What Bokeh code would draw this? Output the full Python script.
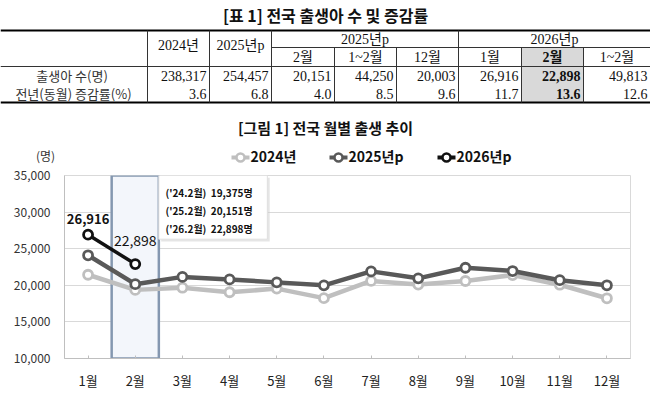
from bokeh.plotting import figure
from bokeh.models import Range1d, FixedTicker, NumeralTickFormatter
from bokeh.core.properties import value
from bokeh.embed import file_html
from bokeh.resources import INLINE

# ---------------- data ----------------
months = ["1월", "2월", "3월", "4월", "5월", "6월", "7월", "8월", "9월", "10월", "11월", "12월"]
births_2024 = [21442, 19375, 19669, 19049, 19547, 18242, 20601, 20098, 20590, 21398, 20080, 18226]
births_2025 = [24099, 20151, 21150, 20800, 20400, 20000, 21900, 20950, 22400, 21950, 20700, 20003]
births_2026 = [26916, 22898]
series_names = ["2024년", "2025년p", "2026년p"]

table_title = "[표 1] 전국 출생아 수 및 증감률"
chart_title = "[그림 1] 전국 월별 출생 추이"
row_labels = ["출생아  수(명)", "전년(동월) 증감률(%)"]
group_headers = ["2025년p", "2026년p"]
col_headers = ["2024년", "2025년p", "2월", "1~2월", "12월", "1월", "2월", "1~2월"]
births_row = [238317, 254457, 20151, 44250, 20003, 26916, 22898, 49813]
rate_row = [3.6, 6.8, 4.0, 8.5, 9.6, 11.7, 13.6, 12.6]
note_labels = ["('24.2월)", "('25.2월)", "('26.2월)"]
y_ticks = [10000, 15000, 20000, 25000, 30000, 35000]

SERIF = value("Liberation Serif, Noto Sans CJK KR")
SANS = value("Noto Sans CJK KR")
W = 650


def blank(h, yr):
    p = figure(width=W, height=h, x_range=Range1d(0, W), y_range=Range1d(*yr),
               output_backend="svg", toolbar_location=None, min_border=0,
               min_border_left=0, min_border_right=0, min_border_top=0, min_border_bottom=0)
    p.axis.visible = False
    p.grid.visible = False
    p.outline_line_color = None
    p.background_fill_color = "white"
    p.border_fill_color = "white"
    return p


# ---------------- table figure ----------------
t = blank(108, (108, 0))
edges = [147, 209, 271, 334, 396, 458, 521, 583, 650]
top, mid, hdr, bot = 30, 47, 66, 102
# shaded cell (2026 2월)
t.quad(left=[edges[6]], right=[edges[7]], top=[mid], bottom=[bot], fill_color="#d9d9d9", line_color=None)
t.segment(x0=[0, 0], y0=[top, bot], x1=[W, W], y1=[top, bot], line_color="black", line_width=2)
t.segment(x0=[0, edges[2]], y0=[hdr, mid], x1=[W, W], y1=[hdr, mid], line_color="#333333", line_width=1)
full_v = [edges[0], edges[1], edges[2], edges[5]]
part_v = [edges[3], edges[4], edges[6], edges[7]]
t.segment(x0=full_v, y0=[top] * 4, x1=full_v, y1=[bot] * 4, line_color="#333333", line_width=1)
t.segment(x0=part_v, y0=[mid] * 4, x1=part_v, y1=[bot] * 4, line_color="#333333", line_width=1)

t.text(x=[325], y=[14], text=[table_title], text_font=SANS, text_font_style="bold",
       text_font_size="16px", text_align="center", text_baseline="middle", text_color="#111111")

centers = [(edges[i] + edges[i + 1]) / 2 for i in range(8)]
t.text(x=centers[:2], y=[45, 45], text=col_headers[:2], text_font=SERIF, text_font_size="14px",
       text_align="center", text_baseline="middle", text_color="#111111")
t.text(x=[(edges[2] + edges[5]) / 2, (edges[5] + edges[8]) / 2], y=[39, 39], text=group_headers,
       text_font=SERIF, text_font_size="14px", text_align="center", text_baseline="middle",
       text_color="#111111")
sub_idx = [2, 3, 4, 5, 7]
t.text(x=[centers[i] for i in sub_idx], y=[57] * 5, text=[col_headers[i] for i in sub_idx],
       text_font=SERIF, text_font_size="14px", text_align="center", text_baseline="middle",
       text_color="#111111")
t.text(x=[centers[6]], y=[57], text=[col_headers[6]], text_font=SERIF, text_font_style="bold",
       text_font_size="14px", text_align="center", text_baseline="middle", text_color="#111111")

t.text(x=[73, 73], y=[75, 93], text=row_labels, text_font=SANS, text_font_size="13px",
       text_align="center", text_baseline="middle", text_color="#333333")
rights = [edges[i + 1] - 3 for i in range(8)]
norm = [i for i in range(8) if i != 6]
t.text(x=[rights[i] for i in norm], y=[75] * 7, text=[f"{births_row[i]:,}" for i in norm],
       text_font=SERIF, text_font_size="14px", text_align="right", text_baseline="middle",
       text_color="#111111")
t.text(x=[rights[i] for i in norm], y=[93] * 7, text=[f"{rate_row[i]:.1f}" for i in norm],
       text_font=SERIF, text_font_size="14px", text_align="right", text_baseline="middle",
       text_color="#111111")
t.text(x=[rights[6], rights[6]], y=[75, 93], text=[f"{births_row[6]:,}", f"{rate_row[6]:.1f}"],
       text_font=SERIF, text_font_style="bold", text_font_size="14px", text_align="right",
       text_baseline="middle", text_color="#111111")

# ---------------- chart header figure ----------------
colors = ["#bfbfbf", "#595959", "#111111"]
HB = 167
h = blank(HB - 108, (HB, 108))
h.text(x=[325], y=[127], text=[chart_title], text_font=SANS, text_font_style="bold",
       text_font_size="15px", text_align="center", text_baseline="middle", text_color="#111111")
h.text(x=[45], y=[155], text=["(명)"], text_font=SANS, text_font_size="12px",
       text_align="center", text_baseline="middle", text_color="#333333")
lg_x = [240, 338, 446]
lg_y = 157
h.segment(x0=[x - 9 for x in lg_x], y0=[lg_y] * 3, x1=[x + 9 for x in lg_x], y1=[lg_y] * 3,
          line_color=colors, line_width=4)
h.scatter(x=lg_x, y=[lg_y] * 3, size=8, fill_color="white", line_color=colors, line_width=2.5)
h.text(x=[x + 10 for x in lg_x], y=[lg_y - 1.5] * 3, text=series_names, text_font=SANS,
       text_font_style="bold", text_font_size="14px", text_align="left", text_baseline="middle",
       text_color="#111111")

# ---------------- chart figure ----------------
xs = list(range(1, 13))
c = figure(width=W, height=397 - HB, x_range=Range1d(0.5, 12.5), y_range=Range1d(10000, 35000),
           output_backend="svg", toolbar_location=None,
           min_border_left=64, min_border_right=20, min_border_top=175 - HB, min_border_bottom=39)
c.background_fill_color = "white"
c.border_fill_color = "white"
c.outline_line_color = "#d9d9d9"
c.xgrid.visible = False
c.ygrid.grid_line_color = "#d9d9d9"
c.ygrid.ticker = FixedTicker(ticks=y_ticks)

c.yaxis.ticker = FixedTicker(ticks=y_ticks)
c.yaxis.formatter = NumeralTickFormatter(format="0,0")
c.yaxis.major_tick_in = 0
c.yaxis.major_tick_out = 0
c.yaxis.minor_tick_line_color = None
c.yaxis.axis_line_color = "#bfbfbf"
c.yaxis.major_label_standoff = 14
c.yaxis.major_label_text_font = "Noto Sans CJK KR"
c.yaxis.major_label_text_font_size = "12px"
c.yaxis.major_label_text_color = "#333333"

c.xaxis.ticker = FixedTicker(ticks=xs)
c.xaxis.major_label_overrides = {i: m for i, m in zip(xs, months)}
c.xaxis.major_tick_in = 3
c.xaxis.major_tick_out = 0
c.xaxis.major_tick_line_color = "#bfbfbf"
c.xaxis.minor_tick_line_color = None
c.xaxis.axis_line_color = "#bfbfbf"
c.xaxis.major_label_standoff = 12
c.xaxis.major_label_text_font = "Noto Sans CJK KR"
c.xaxis.major_label_text_font_size = "13px"
c.xaxis.major_label_text_color = "#222222"

# highlight of February
c.quad(left=[1.5], right=[2.5], bottom=[10000], top=[35000], fill_color="#f3f6fb",
       line_color="#8497b0", line_width=2.5)

# note box
bx_l, bx_r, bx_b = 2.5, 4.8, 26300
c.quad(left=[bx_l + 0.05], right=[bx_r + 0.05], bottom=[bx_b - 300], top=[35000 - 300],
       fill_color="#cccccc", fill_alpha=0.5, line_color=None)
c.quad(left=[bx_l], right=[bx_r], bottom=[bx_b], top=[35000], fill_color="white",
       line_color="#e0e0e0", line_width=1)
note_y = [32650, 30200, 27750]
note_vals = [births_2024[1], births_2025[1], births_2026[1]]
c.text(x=[2.64] * 3, y=note_y, text=note_labels, text_font=SANS, text_font_style="bold",
       text_font_size="10px", text_align="left", text_baseline="middle", text_color="#111111")
c.text(x=[4.49] * 3, y=note_y, text=[f"{v:,}명" for v in note_vals], text_font=SANS,
       text_font_style="bold", text_font_size="10px", text_align="right", text_baseline="middle",
       text_color="#111111")

# series
for vals, col, lw in [(births_2024, colors[0], 4.5), (births_2025, colors[1], 4.5),
                      (births_2026, colors[2], 3.5)]:
    xx = xs[:len(vals)]
    c.line(xx, vals, line_color=col, line_width=lw, line_join="round")
    c.scatter(xx, vals, size=9, fill_color="white", line_color=col, line_width=2.8)

# data labels for 2026
c.text(x=[1], y=[births_2026[0]], text=[f"{births_2026[0]:,}"], y_offset=-16, text_font=SANS,
       text_font_style="bold", text_font_size="13px", text_align="center",
       text_baseline="middle", text_color="#111111")
c.text(x=[2], y=[births_2026[1]], text=[f"{births_2026[1]:,}"], y_offset=-24, text_font=SANS,
       text_font_size="14px", text_align="center", text_baseline="middle", text_color="#111111")

open("out.html", "w").write(file_html([t, h, c], INLINE))
